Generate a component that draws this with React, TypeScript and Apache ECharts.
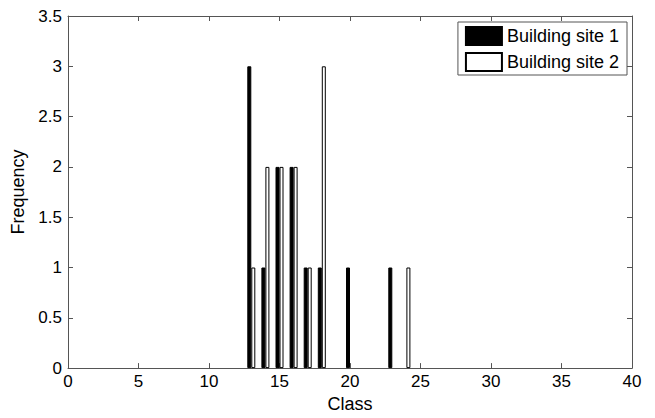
import React, { useEffect, useRef } from "react";
import * as echarts from "echarts";

const site1Classes = [13, 14, 15, 16, 17, 18, 20, 23];
const site1Freq = [3, 1, 2, 2, 1, 1, 1, 1];
const site2Classes = [13, 14, 15, 16, 17, 18, 24];
const site2Freq = [1, 2, 2, 2, 1, 3, 1];
const seriesNames = ["Building site 1", "Building site 2"];

const FONT = "'Liberation Sans', Arial, Helvetica, sans-serif";
const AXIS_COLOR = "#555555";

export default function App() {
  const ref = useRef<HTMLDivElement>(null);
  useEffect(() => {
    if (!ref.current) return;
    const chart = echarts.init(ref.current, undefined, { renderer: "svg" });
    const axisCommon = {
      axisLine: { show: true, onZero: false, lineStyle: { color: AXIS_COLOR, width: 1 } },
      axisTick: { show: true, inside: true, length: 5, lineStyle: { color: AXIS_COLOR } },
      splitLine: { show: false },
    };
    const labelStyle = { color: "#000", fontSize: 17, fontFamily: FONT };
    chart.setOption({
      animation: false,
      backgroundColor: "#fff",
      textStyle: { fontFamily: FONT },
      grid: { left: 68, right: 23, top: 16, bottom: 43, containLabel: false },
      legend: {
        orient: "vertical",
        right: 28,
        top: 22,
        itemWidth: 36,
        itemHeight: 18,
        itemGap: 6,
        padding: [4, 8, 3, 7],
        borderColor: AXIS_COLOR,
        borderWidth: 1,
        backgroundColor: "#fff",
        icon: "rect",
        textStyle: { color: "#000", fontSize: 18, fontFamily: FONT },
        data: seriesNames,
      },
      xAxis: [
        {
          type: "value",
          min: 0,
          max: 40,
          interval: 5,
          position: "bottom",
          ...axisCommon,
          axisLabel: { ...labelStyle, margin: 5 },
          name: "Class",
          nameLocation: "middle",
          nameGap: 25,
          nameTextStyle: { ...labelStyle, fontSize: 18 },
        },
        {
          type: "value",
          min: 0,
          max: 40,
          interval: 5,
          position: "top",
          ...axisCommon,
          axisLabel: { show: false },
        },
      ],
      yAxis: [
        {
          type: "value",
          min: 0,
          max: 3.5,
          interval: 0.5,
          position: "left",
          ...axisCommon,
          axisLabel: { ...labelStyle, margin: 6 },
          name: "Frequency",
          nameLocation: "middle",
          nameGap: 37,
          nameTextStyle: { ...labelStyle, fontSize: 18 },
        },
        {
          type: "value",
          min: 0,
          max: 3.5,
          interval: 0.5,
          position: "right",
          ...axisCommon,
          axisLabel: { show: false },
        },
      ],
      series: [
        {
          name: seriesNames[0],
          type: "bar",
          xAxisIndex: 0,
          yAxisIndex: 0,
          barWidth: 4,
          barGap: "0%",
          itemStyle: { color: "#000", borderColor: "#000", borderWidth: 1 },
          data: site1Classes.map((c, i) => [c, site1Freq[i]]),
        },
        {
          name: seriesNames[1],
          type: "bar",
          xAxisIndex: 0,
          yAxisIndex: 0,
          barWidth: 4,
          barGap: "0%",
          itemStyle: { color: "#fff", borderColor: "#000", borderWidth: 1 },
          data: site2Classes.map((c, i) => [c, site2Freq[i]]),
        },
      ],
    });
    return () => chart.dispose();
  }, []);
  return <div ref={ref} style={{ width: 655, height: 418, position: "absolute", left: 0, top: 0 }} />;
}
